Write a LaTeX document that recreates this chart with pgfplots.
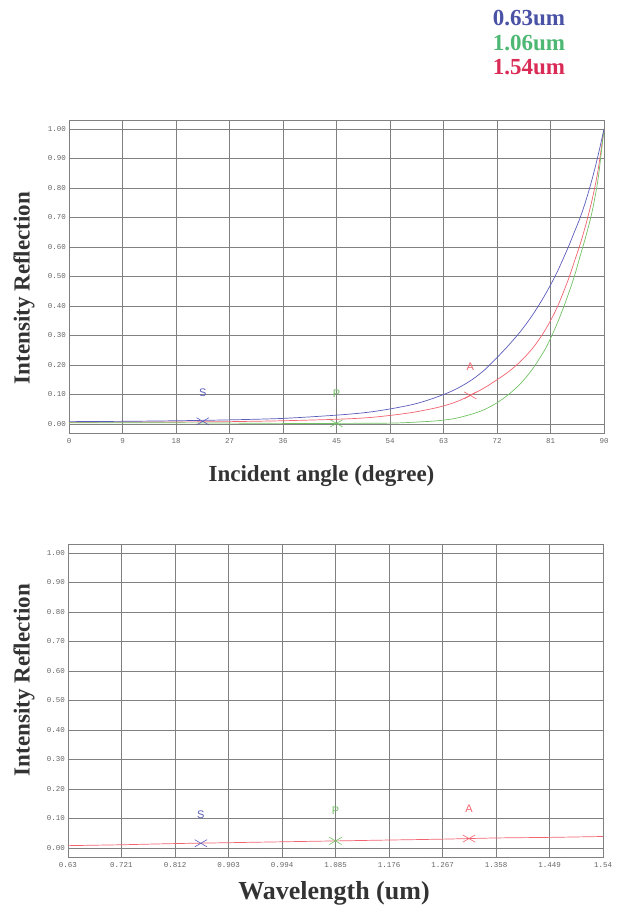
\documentclass[border=0pt]{standalone}
\usepackage{fontspec}
\setmainfont{Liberation Serif}
\newfontfamily\tickfont{Liberation Mono}
\newfontfamily\markfont{Liberation Sans}
\usepackage{pgfplots}
\pgfplotsset{compat=1.18}
\definecolor{cblue}{HTML}{5C5CBC}
\definecolor{cgreen}{HTML}{72C264}
\definecolor{cred}{HTML}{F2636F}
\definecolor{lblue}{HTML}{4A52A5}
\definecolor{lgreen}{HTML}{4DB873}
\definecolor{lred}{HTML}{D92B55}
\definecolor{gridc}{HTML}{808080}
\definecolor{labc}{HTML}{333333}
\pgfplotsset{
 myaxis/.style={
  scale only axis, width=535pt, height=313pt, anchor=south west,
  ymin=-0.0305, ymax=1.0305,
  ytick={0,0.1,0.2,0.3,0.4,0.5,0.6,0.7,0.8,0.9,1.0},
  yticklabels={0.00,0.10,0.20,0.30,0.40,0.50,0.60,0.70,0.80,0.90,1.00},
  grid=major, major grid style={gridc, line width=0.65pt},
  axis line style={gridc, line width=0.8pt},
  tick style={draw=none},
  ticklabel style={font=\tickfont\fontsize{7.5}{8}\selectfont, text=black!60, inner sep=0pt},
  yticklabel style={xshift=-3pt},
  xticklabel style={yshift=-5pt},
  /pgf/number format/assume math mode=true,
  clip=false,
 },
 curve/.style={line width=0.7pt, smooth, tension=0.5},
 cross/.style={only marks, mark=x, mark size=6pt, mark options={xscale=1.45, yscale=0.85, line width=0.6pt}},
}
\begin{document}
\begin{tikzpicture}
\path[use as bounding box] (0,0) rectangle (616pt,912pt);
% legend texts
\node[font=\bfseries\fontsize{23}{23}\selectfont, text=lblue] at (529pt,894pt) {0.63um};
\node[font=\bfseries\fontsize{23}{23}\selectfont, text=lgreen] at (529pt,869pt) {1.06um};
\node[font=\bfseries\fontsize{23}{23}\selectfont, text=lred] at (529pt,845pt) {1.54um};
% top axis
\begin{axis}[myaxis, at={(69pt,479pt)}, xmin=0, xmax=90, xtick={0,9,18,27,36,45,54,63,72,81,90}]
\addplot[cred, curve] coordinates {(0,0.006)(18,0.007)(27,0.008)(36,0.011)(45,0.016)(50,0.021)(54,0.029)(58,0.040)(62,0.056)(65,0.074)(67.5,0.097)(70,0.124)(72,0.150)(74,0.178)(76,0.213)(78,0.257)(80,0.315)(82,0.390)(84,0.490)(85,0.550)(86,0.610)(87,0.680)(88,0.760)(89,0.860)(90,1.000)};
\addplot[cgreen, curve] coordinates {(0,0.004)(18,0.004)(36,0.002)(45,0.002)(54,0.003)(58,0.006)(62,0.011)(65,0.019)(68,0.035)(70,0.050)(72,0.072)(74,0.101)(76,0.138)(78,0.187)(80,0.250)(81,0.290)(82,0.335)(83,0.385)(84,0.440)(85,0.500)(86,0.570)(87,0.640)(88,0.720)(89,0.830)(90,1.000)};
\addplot[cblue, curve] coordinates {(0,0.008)(9,0.009)(18,0.011)(27,0.014)(36,0.019)(45,0.030)(50,0.039)(54,0.051)(58,0.067)(61,0.085)(64,0.108)(66,0.128)(68,0.153)(70,0.185)(72,0.225)(74,0.268)(76,0.315)(78,0.370)(80,0.435)(82,0.510)(84,0.600)(85,0.650)(86,0.700)(87,0.760)(88,0.830)(89,0.910)(90,1.000)};
\addplot[cblue, cross] coordinates {(22.5,0.009)};
\addplot[cgreen, cross] coordinates {(45,0.002)};
\addplot[cred, cross] coordinates {(67.5,0.097)};
\node[font=\markfont\fontsize{11}{11}\selectfont, text=cblue] at (axis cs:22.5,0.106) {S};
\node[font=\markfont\fontsize{11}{11}\selectfont, text=cgreen] at (axis cs:45,0.102) {P};
\node[font=\markfont\fontsize{11}{11}\selectfont, text=cred] at (axis cs:67.5,0.194) {A};
\end{axis}
\node[font=\bfseries\fontsize{23}{23}\selectfont, text=labc, rotate=90] at (24pt,624pt) {Intensity Reflection};
\node[font=\bfseries\fontsize{23}{23}\selectfont, text=labc] at (321.5pt,436pt) {Incident angle (degree)};
% bottom axis
\begin{axis}[myaxis, at={(68pt,55pt)}, xmin=0.63, xmax=1.54,
  xtick={0.63,0.721,0.812,0.903,0.994,1.085,1.176,1.267,1.358,1.449,1.54},
  xticklabels={0.63,0.721,0.812,0.903,0.994,1.085,1.176,1.267,1.358,1.449,1.54}]
\addplot[cred, curve] coordinates {(0.63,0.008)(0.721,0.011)(0.812,0.015)(0.903,0.018)(0.994,0.021)(1.085,0.024)(1.176,0.027)(1.267,0.030)(1.358,0.034)(1.449,0.036)(1.54,0.039)};
\addplot[cblue, cross] coordinates {(0.856,0.016)};
\addplot[cgreen, cross] coordinates {(1.085,0.024)};
\addplot[cred, cross] coordinates {(1.312,0.032)};
\node[font=\markfont\fontsize{11}{11}\selectfont, text=cblue] at (axis cs:0.856,0.113) {S};
\node[font=\markfont\fontsize{11}{11}\selectfont, text=cgreen] at (axis cs:1.085,0.127) {P};
\node[font=\markfont\fontsize{11}{11}\selectfont, text=cred] at (axis cs:1.312,0.133) {A};
\end{axis}
\node[font=\bfseries\fontsize{23}{23}\selectfont, text=labc, rotate=90] at (24pt,232pt) {Intensity Reflection};
\node[font=\bfseries\fontsize{26}{26}\selectfont, text=labc] at (334pt,19pt) {Wavelength (um)};
\end{tikzpicture}
\end{document}
